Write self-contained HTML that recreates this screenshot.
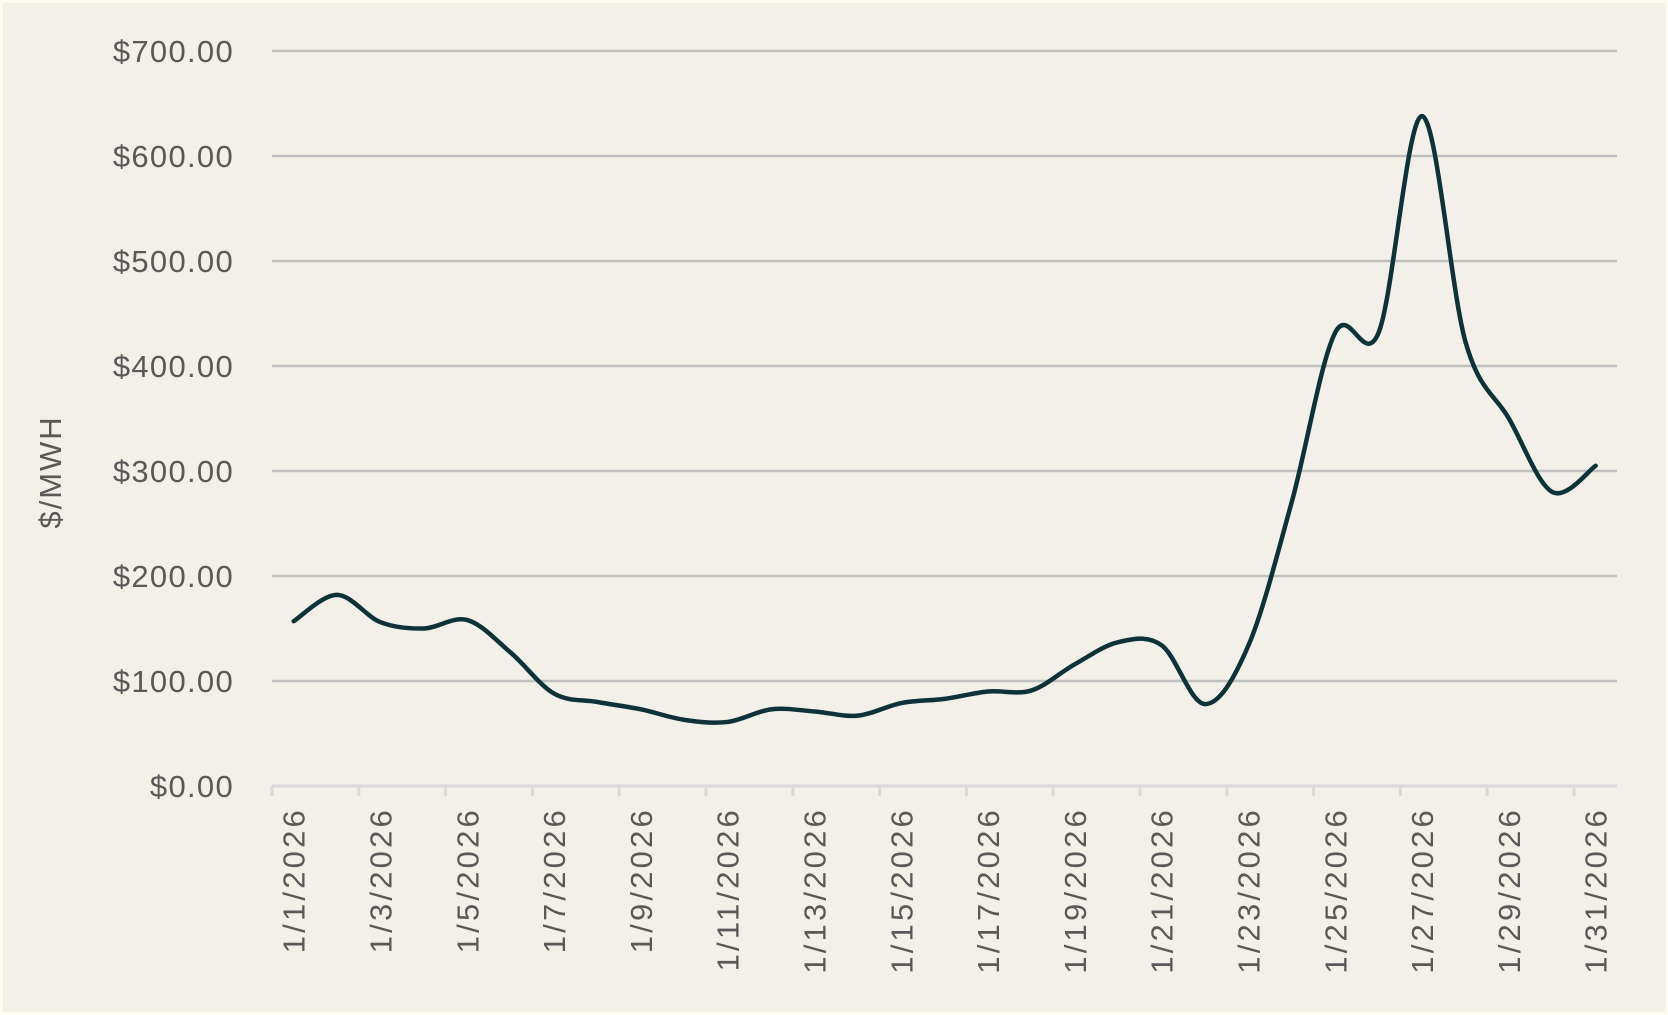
<!DOCTYPE html>
<html><head><meta charset="utf-8"><style>
html,body{margin:0;padding:0;background:#fcfbf0;}
svg{display:block;}
text{font-family:"Liberation Sans",sans-serif;fill:#595959;}
</style></head><body>
<svg id="s" width="1668" height="1015" xmlns="http://www.w3.org/2000/svg">
<rect x="0" y="0" width="1668" height="1015" fill="#fcfbf0"/>
<rect x="3" y="3" width="1662" height="1009" fill="#f2f0e8"/>
<g id="grid" stroke="#c0c0c0" stroke-width="2.5"></g>
<line x1="272" y1="786" x2="1617" y2="786" stroke="#d9d9d9" stroke-width="3"/>
<g id="ticks" stroke="#d9d9d9" stroke-width="3"></g>
<g id="ylab" font-size="31" letter-spacing="1.3" text-anchor="end"></g>
<g id="xlab" font-size="31" letter-spacing="3.2" text-anchor="end"></g>
<text x="0" y="0" font-size="31" letter-spacing="2" text-anchor="middle" transform="translate(61,472) rotate(-90)">$/MWH</text>
<path id="line" fill="none" stroke="#0d3338" stroke-width="4.5" stroke-linejoin="round" stroke-linecap="round"/>
</svg>
<script>
var NS="http://www.w3.org/2000/svg";
function el(p,t,a,txt){var e=document.createElementNS(NS,t);for(var k in a)e.setAttribute(k,a[k]);if(txt)e.textContent=txt;document.getElementById(p).appendChild(e);}
for(var v=100;v<=700;v+=100){var y=786-v*1.05;el("grid","line",{x1:272,y1:y,x2:1617,y2:y});}
for(var v=0;v<=700;v+=100){var y=786-v*1.05;el("ylab","text",{x:234,y:y+11},"$"+v+".00");}
for(var k=0;k<=15;k++){var x=272+86.8*k;el("ticks","line",{x1:x,y1:786,x2:x,y2:796});}
for(var d=1;d<=31;d+=2){var x=293.7+43.4*(d-1);el("xlab","text",{x:0,y:0,transform:"translate("+(x+11)+",807) rotate(-90)"},"1/"+d+"/2026");}
var vals=[157,182,156,150,158,127,88,80,73,63,61,73,71,67,79,83,90,91,116,137,134,78,134,271,432,432,638,423,350,280,305];
var P=vals.map(function(v,i){return [293.7+43.4*i,786-v*1.05];});
var d="M"+P[0][0]+","+P[0][1];
for(var i=0;i<P.length-1;i++){var p0=P[i-1]||P[i],p1=P[i],p2=P[i+1],p3=P[i+2]||P[i+1];var t=6;
d+=" C"+(p1[0]+(p2[0]-p0[0])/t)+","+(p1[1]+(p2[1]-p0[1])/t)+" "+(p2[0]-(p3[0]-p1[0])/t)+","+(p2[1]-(p3[1]-p1[1])/t)+" "+p2[0]+","+p2[1];}
document.getElementById("line").setAttribute("d",d);
</script>
</body></html>
